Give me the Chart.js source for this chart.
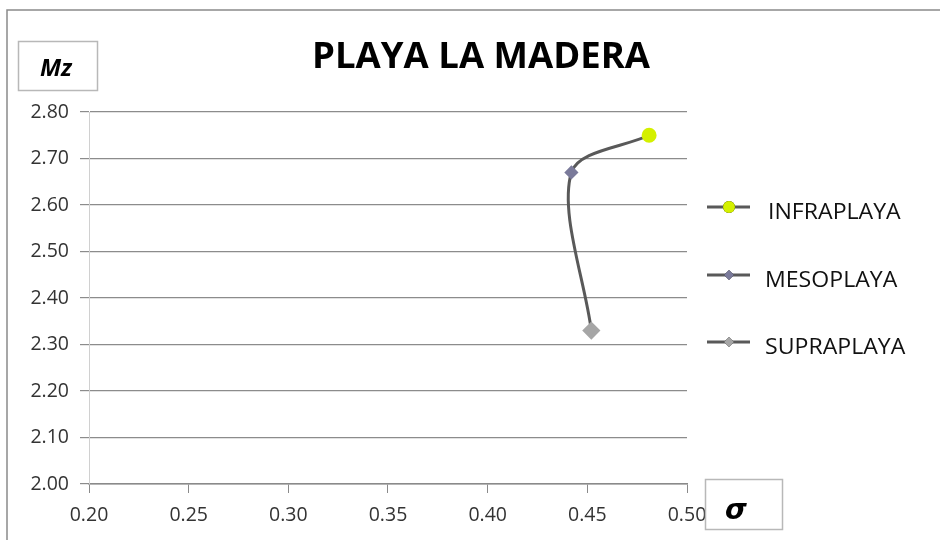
<!DOCTYPE html>
<html>
<head>
<meta charset="utf-8">
<script src="https://cdn.jsdelivr.net/npm/chart.js@4/dist/chart.umd.min.js"></script>
<style>
  html, body { margin: 0; padding: 0; background: #ffffff; }
  #wrap { width: 940px; height: 540px; position: relative; }
</style>
</head>
<body>
<div id="wrap"><canvas id="c" width="940" height="540"></canvas></div>
<script>
// Sorting (σ) versus mean grain size (Mz) for each beach zone
const zones = ['INFRAPLAYA', 'MESOPLAYA', 'SUPRAPLAYA'];
const sigma = [0.481, 0.442, 0.452];
const mz = [2.75, 2.67, 2.33];
const markerColors = ['#d4f000', '#7a7a9a', '#a6a6a6'];
const markerStyles = ['circle', 'rectRot', 'rectRot'];
const markerSizes = [6, 5, 7];
const xTicks = [0.20, 0.25, 0.30, 0.35, 0.40, 0.45, 0.50];
const yTicks = [2.00, 2.10, 2.20, 2.30, 2.40, 2.50, 2.60, 2.70, 2.80];

const lineColor = '#595959';
const tickFont = { family: 'Open Sans', size: 19.5 };

// one smoothed profile line through all zones, drawn under the markers
const profile = {
  label: 'perfil',
  data: zones.map((z, i) => ({ x: sigma[i], y: mz[i] })),
  showLine: true,
  borderColor: lineColor,
  borderWidth: 3,
  pointRadius: 0,
  tension: 0.32,
  order: 2
};

const zoneSets = zones.map((z, i) => ({
  label: z,
  data: [{ x: sigma[i], y: mz[i] }],
  borderColor: lineColor,
  backgroundColor: markerColors[i],
  pointBackgroundColor: markerColors[i],
  pointBorderColor: markerColors[i],
  pointStyle: markerStyles[i],
  pointRadius: markerSizes[i],
  borderWidth: 3,
  order: 1
}));

// frame, title, axis-name boxes and legend
const decor = {
  id: 'decor',
  beforeDraw(chart) {
    const ctx = chart.ctx;
    ctx.save();
    ctx.fillStyle = '#ffffff';
    ctx.fillRect(0, 0, chart.width, chart.height);
    ctx.strokeStyle = '#8a8a8a';
    ctx.lineWidth = 1.5;
    ctx.strokeRect(7, 10, 1000, 1000);
    ctx.restore();
  },
  afterDraw(chart) {
    const ctx = chart.ctx;
    ctx.save();
    // title
    ctx.fillStyle = '#000000';
    ctx.textAlign = 'center';
    ctx.textBaseline = 'alphabetic';
    ctx.font = 'bold 35px "Liberation Sans Narrow", "Open Sans", sans-serif';
    const title = 'PLAYA LA MADERA';
    const w = ctx.measureText(title).width;
    ctx.save();
    ctx.translate(481, 68);
    ctx.scale(338 / w, 1);
    ctx.fillText(title, 0, 0);
    ctx.restore();

    // axis-name boxes
    ctx.strokeStyle = '#b8b8b8';
    ctx.lineWidth = 1.5;
    ctx.strokeRect(18.5, 41.5, 79, 49);
    ctx.strokeRect(705.5, 479.5, 77, 50);
    ctx.fillStyle = '#000000';
    ctx.font = 'italic bold 24px "Open Sans", sans-serif';
    ctx.textBaseline = 'middle';
    ctx.fillText('Mz', 56, 69);
    ctx.font = 'oblique bold 28px "DejaVu Sans", sans-serif';
    ctx.fillText('σ', 736, 512);

    // legend
    const rows = [207, 275, 342];
    chart.data.datasets.forEach((ds, di) => {
      if (di === 0) return;
      const i = di - 1;
      const y = rows[i];
      ctx.strokeStyle = ds.borderColor;
      ctx.lineWidth = 3;
      ctx.beginPath();
      ctx.moveTo(707, y);
      ctx.lineTo(750, y);
      ctx.stroke();
      Chart.helpers.drawPoint(ctx, {
        pointStyle: ds.pointStyle,
        radius: i === 0 ? 6 : 5,
        rotation: 0,
        borderWidth: 0
      }, 729, y);
      ctx.fillStyle = ds.pointBackgroundColor;
      ctx.fill();
      ctx.fillStyle = '#111111';
      ctx.textAlign = 'left';
      ctx.textBaseline = 'middle';
      ctx.font = '21px "Open Sans", sans-serif';
      const x0 = i === 0 ? 768 : 765;
      ctx.save();
      ctx.translate(x0, y + 6);
      ctx.scale(1.1, 1);
      ctx.fillText(ds.label, 0, 0);
      ctx.restore();
    });
    ctx.restore();
  }
};

new Chart(document.getElementById('c'), {
  type: 'scatter',
  data: { datasets: [profile, ...zoneSets] },
  options: {
    responsive: false,
    animation: false,
    devicePixelRatio: 1,
    layout: { padding: { left: 0, top: 112, right: 253, bottom: 0 } },
    plugins: { legend: { display: false }, tooltip: { enabled: false }, title: { display: false } },
    scales: {
      x: {
        type: 'linear',
        min: 0.20, max: 0.50,
        afterBuildTicks(s) { s.ticks = xTicks.map(v => ({ value: v })); },
        afterFit(s) { s.height = 56; },
        grid: { drawOnChartArea: false, drawTicks: true, tickLength: 9, color: '#8a8a8a' },
        border: { color: '#8a8a8a', width: 1.5 },
        ticks: { font: tickFont, color: '#333333', padding: 11, maxRotation: 0,
                 callback: v => v.toFixed(2) }
      },
      y: {
        type: 'linear',
        min: 2.00, max: 2.80,
        afterBuildTicks(s) { s.ticks = yTicks.map(v => ({ value: v })); },
        afterFit(s) { s.width = 89; },
        grid: { color: '#8c8c8c', lineWidth: 1.2, drawTicks: true, tickLength: 9 },
        border: { color: '#d0d0d0', width: 1 },
        ticks: { font: tickFont, color: '#333333', padding: 11,
                 callback: v => v.toFixed(2) }
      }
    }
  },
  plugins: [decor]
});
</script>
</body>
</html>
